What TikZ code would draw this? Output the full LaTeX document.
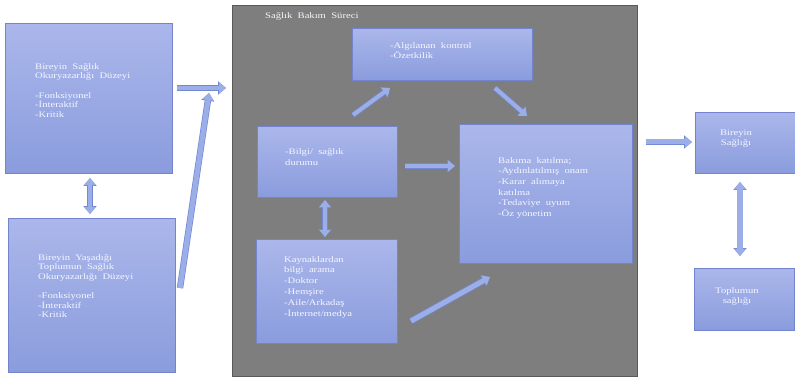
\documentclass[tikz,border=0pt]{standalone}
\usepackage{fontspec}
\setmainfont{Liberation Serif}
\newfontfamily\widefont[FakeStretch=1.25]{Liberation Serif}
\usetikzlibrary{arrows.meta}

\definecolor{boxtop}{HTML}{ABB7EB}
\definecolor{boxbot}{HTML}{8A9CDD}
\definecolor{boxedge}{HTML}{7384CC}
\definecolor{arrowfill}{HTML}{9CAEE8}
\definecolor{arrowedge}{HTML}{7489D4}
\definecolor{panel}{HTML}{7E7E7E}
\definecolor{paneledge}{HTML}{5A5A5A}
\definecolor{lighttext}{HTML}{F4F6FF}

\begin{document}
\begin{tikzpicture}[x=1pt,y=-1pt,
  box/.style={draw=boxedge, line width=0.9pt, top color=boxtop, bottom color=boxbot,
              inner sep=0pt, anchor=north west},
  txt/.style={text=lighttext, align=left, inner sep=0pt, anchor=north west,
              font=\widefont\fontsize{8.5}{#1}\selectfont},
  txt/.default=9.5,
  ctxt/.style={text=lighttext, align=center, inner sep=0pt,
               font=\widefont\fontsize{8.5}{10}\selectfont},
  blockarrow/.style={draw=arrowfill, line width=#1,
      -{Triangle[length=7pt,width=11pt]},
      preaction={draw=arrowedge, line width=#1+1.4pt,
                 -{Triangle[length=7.8pt,width=12.6pt]}}},
  blockarrow/.default=4pt,
  duoarrow/.style={draw=arrowfill, line width=#1,
      {Triangle[length=7pt,width=11pt]}-{Triangle[length=7pt,width=11pt]},
      preaction={draw=arrowedge, line width=#1+1.4pt,
                 {Triangle[length=7.8pt,width=12.6pt]}-{Triangle[length=7.8pt,width=12.6pt]}}},
  duoarrow/.default=4pt
]
% canvas
\path[use as bounding box, fill=white] (0,0) rectangle (795,377);

% process panel
\node[draw=paneledge, line width=1.4pt, fill=panel, inner sep=0pt, anchor=north west,
      minimum width=405pt, minimum height=371pt] (panel) at (232,5) {};
\node[txt] (paneltitle) at (265,12) {Sağlık\ \ Bakım\ \ Süreci};

% left column
\node[box, minimum width=167pt, minimum height=150pt] (indiv) at (5,23) {};
\node[txt] (indivtext) at (35,63)
  {Bireyin\ \ Sağlık\\Okuryazarlığı\ \ Düzeyi\\[10pt]-Fonksiyonel\\-İnteraktif\\-Kritik};

\node[box, minimum width=167pt, minimum height=154pt] (comm) at (8,218) {};
\node[txt] (commtext) at (38,254)
  {Bireyin\ \ Yaşadığı\\Toplumun\ \ Sağlık\\Okuryazarlığı\ \ Düzeyi\\[10pt]-Fonksiyonel\\-İnteraktif\\-Kritik};

% inside the panel
\node[box, minimum width=180pt, minimum height=52pt] (ctrl) at (352,28) {};
\node[txt=10] (ctrltext) at (390,42) {-Algılanan\ \ kontrol\\-Özetkilik};

\node[box, minimum width=140pt, minimum height=71pt] (info) at (257,126) {};
\node[txt=11.5] (infotext) at (285,148) {-Bilgi/\ \ sağlık\\durumu};

\node[box, minimum width=141pt, minimum height=104pt] (search) at (256,239) {};
\node[txt=10.8] (searchtext) at (284,256)
  {Kaynaklardan\\bilgi\ \ arama\\-Doktor\\-Hemşire\\-Aile/Arkadaş\\-İnternet/medya};

\node[box, minimum width=173pt, minimum height=139pt] (care) at (459,124) {};
\node[txt=10.7] (caretext) at (498,157)
  {Bakıma\ \ katılma;\\-Aydınlatılmış\ \ onam\\-Karar\ \ alımaya\\katılma\\-Tedaviye\ \ uyum\\-Öz yönetim};

% right column
\node[box, minimum width=100pt, minimum height=61pt] (health) at (695,112) {};
\node[ctxt] (healthtext) at (736,139) {Bireyin\\Sağlığı};

\node[box, minimum width=100pt, minimum height=62pt] (public) at (694,268) {};
\node[ctxt] (publictext) at (737,296) {Toplumun\\sağlığı};

% arrow end points
\coordinate (a1) at (177,88);  \coordinate (a2) at (226,88);
\coordinate (b1) at (180,288); \coordinate (b2) at (209,93);
\coordinate (c1) at (90,178);  \coordinate (c2) at (90,214);
\coordinate (d1) at (353,115); \coordinate (d2) at (390,88);
\coordinate (e1) at (495,88);  \coordinate (e2) at (527,116);
\coordinate (f1) at (405,166); \coordinate (f2) at (455,166);
\coordinate (g1) at (325,200); \coordinate (g2) at (325,237);
\coordinate (h1) at (411,321); \coordinate (h2) at (490,277);
\coordinate (i1) at (646,142); \coordinate (i2) at (692,142);
\coordinate (j1) at (740,182); \coordinate (j2) at (740,256);

% connectors
\draw[blockarrow] (a1) -- (a2);
\draw[blockarrow=5pt] (b1) -- (b2);
\draw[duoarrow] (c1) -- (c2);
\draw[blockarrow] (d1) -- (d2);
\draw[blockarrow] (e1) -- (e2);
\draw[blockarrow] (f1) -- (f2);
\draw[duoarrow] (g1) -- (g2);
\draw[blockarrow=5pt] (h1) -- (h2);
\draw[blockarrow=5pt] (i1) -- (i2);
\draw[duoarrow=5.5pt] (j1) -- (j2);
\end{tikzpicture}
\end{document}
